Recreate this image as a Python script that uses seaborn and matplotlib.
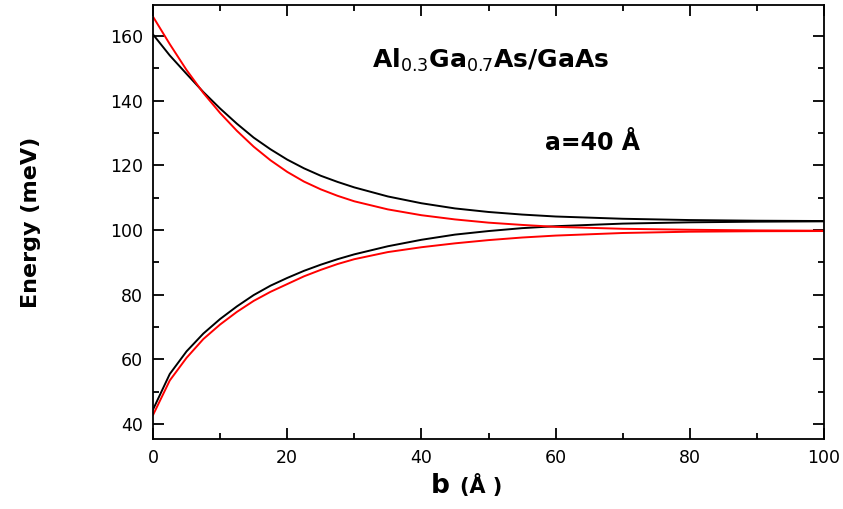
import matplotlib
matplotlib.use('Agg')
import matplotlib.pyplot as plt
import seaborn as sns
import pandas as pd
from matplotlib.ticker import MultipleLocator

# barrier width b (Angstrom)
b = [0, 2.5, 5, 7.5, 10, 12.5, 15, 17.5, 20, 22.5, 25, 27.5, 30, 35, 40, 45, 50, 55, 60, 70, 80, 90, 100]

# energy levels (meV)
upper_black = [160.5, 154.0, 148.3, 142.7, 137.6, 132.9, 128.6, 125.0, 121.8, 119.1, 116.8, 114.9, 113.2,
               110.4, 108.3, 106.7, 105.6, 104.8, 104.2, 103.5, 103.1, 102.9, 102.8]
upper_red = [166.0, 157.5, 149.5, 142.4, 136.2, 130.7, 125.8, 121.6, 118.0, 115.0, 112.6, 110.6, 108.9,
             106.4, 104.6, 103.3, 102.3, 101.6, 101.0, 100.4, 100.1, 99.9, 99.8]
lower_black = [44.5, 55.5, 62.5, 68.0, 72.5, 76.4, 79.9, 82.8, 85.2, 87.4, 89.3, 91.0, 92.5,
               95.0, 97.0, 98.6, 99.7, 100.6, 101.2, 102.0, 102.4, 102.6, 102.7]
lower_red = [42.8, 53.5, 60.5, 66.3, 70.8, 74.7, 78.1, 80.9, 83.3, 85.7, 87.7, 89.5, 91.0,
             93.2, 94.7, 95.9, 96.9, 97.7, 98.3, 99.1, 99.5, 99.65, 99.7]

sns.set_style('ticks')
plt.rcParams['font.family'] = ['DejaVu Sans']
plt.rcParams['mathtext.fontset'] = 'custom'
plt.rcParams['mathtext.rm'] = 'DejaVu Sans'
plt.rcParams['mathtext.bf'] = 'DejaVu Sans:bold'
plt.rcParams['text.color'] = 'black'
plt.rcParams['axes.labelcolor'] = 'black'
plt.rcParams['axes.edgecolor'] = 'black'
plt.rcParams['xtick.color'] = 'black'
plt.rcParams['ytick.color'] = 'black'

fig = plt.figure(figsize=(8.43, 5.09), dpi=100)
ax = fig.add_axes([153 / 843, 1 - 439 / 509, (824 - 153) / 843, (439 - 5) / 509])

series = [(upper_black, 'black'), (lower_black, 'black'), (upper_red, 'red'), (lower_red, 'red')]
for vals, col in series:
    df = pd.DataFrame({'b': b, 'E': vals})
    sns.lineplot(data=df, x='b', y='E', color=col, linewidth=1.4, ax=ax, sort=False)

ax.set_xlim(0, 100)
ax.set_ylim(35.4, 169.6)
ax.xaxis.set_major_locator(MultipleLocator(20))
ax.xaxis.set_minor_locator(MultipleLocator(10))
ax.yaxis.set_major_locator(MultipleLocator(20))
ax.yaxis.set_minor_locator(MultipleLocator(10))
ax.tick_params(which='both', direction='in', top=True, right=True, width=1.3,
               labelsize=12.5, pad=7)
ax.tick_params(which='major', length=8)
ax.tick_params(which='minor', length=4)
for s in ax.spines.values():
    s.set_linewidth(1.3)

ax.set_xlabel('')
ax.set_ylabel('Energy (meV)', fontsize=16, fontweight='bold', labelpad=50)

# x label: bold b with smaller (Å )
fig.text(440 / 843, 1 - 486 / 509, 'b', fontsize=19, fontweight='bold', va='center', ha='center')
fig.text(481 / 843, 1 - 486 / 509, '(Å )', fontsize=15, fontweight='bold', va='center', ha='center')

ax.text(372 / 843, 1 - 60 / 509, r'Al$_{\mathrm{0.3}}$Ga$_{\mathrm{0.7}}$As/GaAs',
        transform=fig.transFigure, fontsize=18, fontweight='bold', va='center', ha='left')
ax.text(545 / 843, 1 - 143 / 509, 'a=40 Å', transform=fig.transFigure,
        fontsize=17, fontweight='bold', va='center', ha='left')

fig.savefig('out.png', dpi=100)
